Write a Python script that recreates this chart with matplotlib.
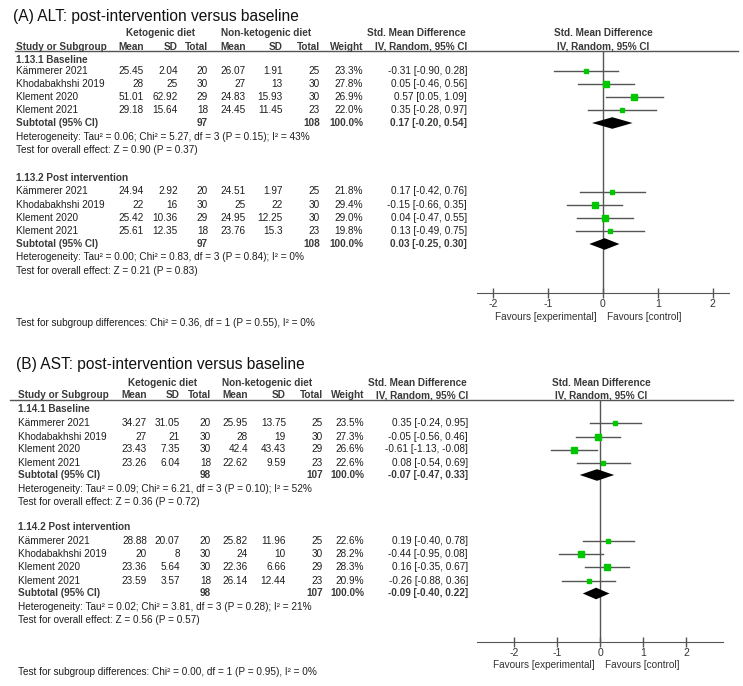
import matplotlib
matplotlib.use("Agg")
import matplotlib.pyplot as plt

plt.rcParams['font.family'] = ['Liberation Sans', 'DejaVu Sans']

studies = ["Kämmerer 2021", "Khodabakhshi 2019", "Klement 2020", "Klement 2021"]

# (A) ALT
alt_base_keto_mean = [25.45, 28, 51.01, 29.18]
alt_base_keto_sd = [2.04, 25, 62.92, 15.64]
alt_base_keto_n = [20, 30, 29, 18]
alt_base_ctrl_mean = [26.07, 27, 24.83, 24.45]
alt_base_ctrl_sd = [1.91, 13, 15.93, 11.45]
alt_base_ctrl_n = [25, 30, 30, 23]
alt_base_weight = [23.3, 27.8, 26.9, 22.0]
alt_base_smd = [-0.31, 0.05, 0.57, 0.35]
alt_base_lo = [-0.90, -0.46, 0.05, -0.28]
alt_base_hi = [0.28, 0.56, 1.09, 0.97]
alt_base_total = [97, 108, 0.17, -0.20, 0.54]
alt_base_het = "Heterogeneity: Tau² = 0.06; Chi² = 5.27, df = 3 (P = 0.15); I² = 43%"
alt_base_z = "Test for overall effect: Z = 0.90 (P = 0.37)"

alt_post_keto_mean = [24.94, 22, 25.42, 25.61]
alt_post_keto_sd = [2.92, 16, 10.36, 12.35]
alt_post_keto_n = [20, 30, 29, 18]
alt_post_ctrl_mean = [24.51, 25, 24.95, 23.76]
alt_post_ctrl_sd = [1.97, 22, 12.25, 15.3]
alt_post_ctrl_n = [25, 30, 30, 23]
alt_post_weight = [21.8, 29.4, 29.0, 19.8]
alt_post_smd = [0.17, -0.15, 0.04, 0.13]
alt_post_lo = [-0.42, -0.66, -0.47, -0.49]
alt_post_hi = [0.76, 0.35, 0.55, 0.75]
alt_post_total = [97, 108, 0.03, -0.25, 0.30]
alt_post_het = "Heterogeneity: Tau² = 0.00; Chi² = 0.83, df = 3 (P = 0.84); I² = 0%"
alt_post_z = "Test for overall effect: Z = 0.21 (P = 0.83)"
alt_subgroup = "Test for subgroup differences: Chi² = 0.36, df = 1 (P = 0.55), I² = 0%"

# (B) AST
ast_base_keto_mean = [34.27, 27, 23.43, 23.26]
ast_base_keto_sd = [31.05, 21, 7.35, 6.04]
ast_base_keto_n = [20, 30, 30, 18]
ast_base_ctrl_mean = [25.95, 28, 42.4, 22.62]
ast_base_ctrl_sd = [13.75, 19, 43.43, 9.59]
ast_base_ctrl_n = [25, 30, 29, 23]
ast_base_weight = [23.5, 27.3, 26.6, 22.6]
ast_base_smd = [0.35, -0.05, -0.61, 0.08]
ast_base_lo = [-0.24, -0.56, -1.13, -0.54]
ast_base_hi = [0.95, 0.46, -0.08, 0.69]
ast_base_total = [98, 107, -0.07, -0.47, 0.33]
ast_base_het = "Heterogeneity: Tau² = 0.09; Chi² = 6.21, df = 3 (P = 0.10); I² = 52%"
ast_base_z = "Test for overall effect: Z = 0.36 (P = 0.72)"

ast_post_keto_mean = [28.88, 20, 23.36, 23.59]
ast_post_keto_sd = [20.07, 8, 5.64, 3.57]
ast_post_keto_n = [20, 30, 30, 18]
ast_post_ctrl_mean = [25.82, 24, 22.36, 26.14]
ast_post_ctrl_sd = [11.96, 10, 6.66, 12.44]
ast_post_ctrl_n = [25, 30, 29, 23]
ast_post_weight = [22.6, 28.2, 28.3, 20.9]
ast_post_smd = [0.19, -0.44, 0.16, -0.26]
ast_post_lo = [-0.40, -0.95, -0.35, -0.88]
ast_post_hi = [0.78, 0.08, 0.67, 0.36]
ast_post_total = [98, 107, -0.09, -0.40, 0.22]
ast_post_het = "Heterogeneity: Tau² = 0.02; Chi² = 3.81, df = 3 (P = 0.28); I² = 21%"
ast_post_z = "Test for overall effect: Z = 0.56 (P = 0.57)"
ast_subgroup = "Test for subgroup differences: Chi² = 0.00, df = 1 (P = 0.95), I² = 0%"

ticks = [-2, -1, 0, 1, 2]

W, H = 743, 686
fs = 7.2
body = '#1e1e1e'
head = '#3a3a3a'
grey = '#555555'
green = '#00c800'

fig = plt.figure(figsize=(W / 100, H / 100), dpi=100)
bg = fig.add_axes([0, 0, 1, 1])
bg.set_xlim(0, W)
bg.set_ylim(H, 0)
bg.axis('off')


def fmt(v):
    return f"{v:g}"


def ci_text(m, lo, hi):
    return f"{m:.2f} [{lo:.2f}, {hi:.2f}]"


def panel(title, groups, subgroup_text, lay):
    cx = lay['cols']
    bg.text(lay['title_x'], lay['title_y'], title, fontsize=11.2, va='center', color='#111111')
    # top header
    y1, y2 = lay['hdr']
    bg.text(lay['keto_c'], y1, "Ketogenic diet", fontsize=fs, fontweight='bold', color=head, ha='center', va='center')
    bg.text(lay['ctrl_c'], y1, "Non-ketogenic diet", fontsize=fs, fontweight='bold', color=head, ha='center', va='center')
    bg.text(lay['smd_c'], y1, "Std. Mean Difference", fontsize=fs, fontweight='bold', color=head, ha='center', va='center')
    bg.text(lay['zero_px'], y1, "Std. Mean Difference", fontsize=fs, fontweight='bold', color=head, ha='center', va='center')
    bg.text(lay['study_x'], y2, "Study or Subgroup", fontsize=fs, fontweight='bold', color=head, va='center')
    for lab, x in zip(["Mean", "SD", "Total", "Mean", "SD", "Total", "Weight", "IV, Random, 95% CI"], cx):
        bg.text(x, y2, lab, fontsize=fs, fontweight='bold', color=head, ha='right', va='center')
    bg.text(lay['zero_px'], y2, "IV, Random, 95% CI", fontsize=fs, fontweight='bold', color=head, ha='center', va='center')
    bg.plot(lay['line_x'], [lay['line_y']] * 2, color=grey, lw=1)

    # forest axes
    fx0, fx1 = lay['forest_x']
    ax = fig.add_axes([fx0 / W, 1 - lay['axis_y'] / H, (fx1 - fx0) / W, (lay['axis_y'] - lay['line_y']) / H])
    ax.set_xlim(*lay['xlim'])
    ax.set_ylim(lay['axis_y'], lay['line_y'])
    ax.patch.set_alpha(0)
    for s in ['top', 'left', 'right']:
        ax.spines[s].set_visible(False)
    ax.spines['bottom'].set_color(grey)
    ax.set_yticks([])
    ax.set_xticks(ticks)
    ax.set_xticklabels([str(t) for t in ticks])
    ax.tick_params(axis='x', direction='inout', length=7, width=1, color=grey, labelsize=7.5, pad=1, labelcolor='#333333')
    ax.axvline(0, color=grey, lw=1, zorder=1)

    for g in groups:
        bg.text(lay['study_x'], g['label_y'], g['label'], fontsize=fs, fontweight='bold', color=head, va='center')
        for i, name in enumerate(studies):
            y = g['rows'][i]
            vals = [fmt(g['km'][i]), fmt(g['ks'][i]), str(g['kn'][i]), fmt(g['cm'][i]), fmt(g['cs'][i]),
                    str(g['cn'][i]), f"{g['w'][i]:.1f}%", ci_text(g['smd'][i], g['lo'][i], g['hi'][i])]
            bg.text(lay['study_x'], y, name, fontsize=fs, color=body, va='center')
            for v, x in zip(vals, cx):
                bg.text(x, y, v, fontsize=fs, color=body, ha='right', va='center')
            ax.plot([g['lo'][i], g['hi'][i]], [y, y], color=grey, lw=1, zorder=2)
            ax.plot(g['smd'][i], y, marker='s', color=green, mec=green,
                    markersize=g['w'][i] * 0.2 * 0.72, linestyle='none', zorder=3)
        t = g['tot']
        ys = g['sub_y']
        bg.text(lay['study_x'], ys, "Subtotal (95% CI)", fontsize=fs, fontweight='bold', color=head, va='center')
        for v, x in zip([str(t[0]), str(t[1]), "100.0%", ci_text(t[2], t[3], t[4])],
                        [cx[2], cx[5], cx[6], cx[7]]):
            bg.text(x, ys, v, fontsize=fs, fontweight='bold', color=head, ha='right', va='center')
        hh = 5.8
        ax.fill([t[3], t[2], t[4], t[2]], [ys, ys - hh, ys, ys + hh], color='black', lw=0, zorder=4)
        bg.text(lay['study_x'], g['het_y'], g['het'], fontsize=fs, color=body, va='center')
        bg.text(lay['study_x'], g['z_y'], g['z'], fontsize=fs, color=body, va='center')

    bg.text(lay['study_x'], lay['sub_y'], subgroup_text, fontsize=fs, color=body, va='center')
    fy = lay['fav_y']
    bg.text(lay['zero_px'] - 6, fy, "Favours [experimental]", fontsize=7.2, color='#333333', ha='right', va='center')
    bg.text(lay['zero_px'] + 4, fy, "Favours [control]", fontsize=7.2, color='#333333', ha='left', va='center')


panel("(A) ALT: post-intervention versus baseline",
      [dict(label="1.13.1 Baseline", label_y=60, rows=[71, 84, 97, 110], sub_y=123, het_y=137, z_y=150,
            km=alt_base_keto_mean, ks=alt_base_keto_sd, kn=alt_base_keto_n,
            cm=alt_base_ctrl_mean, cs=alt_base_ctrl_sd, cn=alt_base_ctrl_n, w=alt_base_weight,
            smd=alt_base_smd, lo=alt_base_lo, hi=alt_base_hi, tot=alt_base_total, het=alt_base_het, z=alt_base_z),
       dict(label="1.13.2 Post intervention", label_y=178, rows=[191.5, 205, 218, 231], sub_y=244, het_y=257.5, z_y=271,
            km=alt_post_keto_mean, ks=alt_post_keto_sd, kn=alt_post_keto_n,
            cm=alt_post_ctrl_mean, cs=alt_post_ctrl_sd, cn=alt_post_ctrl_n, w=alt_post_weight,
            smd=alt_post_smd, lo=alt_post_lo, hi=alt_post_hi, tot=alt_post_total, het=alt_post_het, z=alt_post_z)],
      alt_subgroup,
      dict(title_x=13, title_y=16, hdr=(33, 46.5), line_y=50.5, line_x=[15, 738], study_x=16,
           cols=[144, 178, 208, 246, 283, 320, 363, 467], keto_c=161, ctrl_c=266, smd_c=416,
           zero_px=603, forest_x=(477, 729), xlim=(-2.3, 2.3), axis_y=293, sub_y=323, fav_y=316.5))

panel("(B) AST: post-intervention versus baseline",
      [dict(label="1.14.1 Baseline", label_y=409, rows=[423, 436.5, 449.5, 462.5], sub_y=475, het_y=489, z_y=502,
            km=ast_base_keto_mean, ks=ast_base_keto_sd, kn=ast_base_keto_n,
            cm=ast_base_ctrl_mean, cs=ast_base_ctrl_sd, cn=ast_base_ctrl_n, w=ast_base_weight,
            smd=ast_base_smd, lo=ast_base_lo, hi=ast_base_hi, tot=ast_base_total, het=ast_base_het, z=ast_base_z),
       dict(label="1.14.2 Post intervention", label_y=527, rows=[540.5, 554, 567, 580.5], sub_y=593.5, het_y=606.5, z_y=620,
            km=ast_post_keto_mean, ks=ast_post_keto_sd, kn=ast_post_keto_n,
            cm=ast_post_ctrl_mean, cs=ast_post_ctrl_sd, cn=ast_post_ctrl_n, w=ast_post_weight,
            smd=ast_post_smd, lo=ast_post_lo, hi=ast_post_hi, tot=ast_post_total, het=ast_post_het, z=ast_post_z)],
      ast_subgroup,
      dict(title_x=16.5, title_y=365, hdr=(382.5, 395.5), line_y=400, line_x=[10, 733], study_x=18,
           cols=[147, 180, 211, 248, 286, 323, 364, 468], keto_c=163, ctrl_c=267, smd_c=417,
           zero_px=601, forest_x=(477, 723), xlim=(-2.86, 2.86), axis_y=642, sub_y=672, fav_y=665))

fig.savefig("out.png", dpi=100)
